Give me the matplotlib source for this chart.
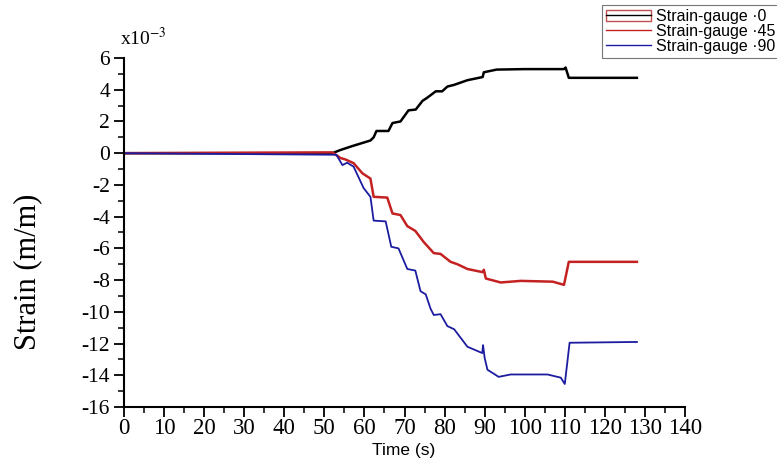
import matplotlib
matplotlib.use("Agg")
import matplotlib.pyplot as plt
from matplotlib.lines import Line2D
from matplotlib.patches import Patch
from matplotlib.ticker import MultipleLocator

plt.rcParams["axes.unicode_minus"] = False
plt.rcParams["font.family"] = ["Liberation Serif", "DejaVu Serif"]
plt.rcParams["mathtext.fontset"] = "stix"

# Strain-gauge 0 (black)
t0 = [0, 52, 54, 57, 61.5, 62.3, 63, 66, 67, 69, 71, 72.8, 74.5, 75.7, 77.8, 79.4,
      80.7, 82.3, 85.7, 89.5, 89.8, 93, 100, 109.8, 110.2, 111, 128]
e0 = [0, 0, 0.2, 0.45, 0.8, 1.0, 1.4, 1.4, 1.9, 2.0, 2.7, 2.75, 3.3, 3.5, 3.9, 3.9,
      4.2, 4.3, 4.6, 4.8, 5.1, 5.27, 5.3, 5.3, 5.4, 4.75, 4.75]

# Strain-gauge 45 (red)
t45 = [0, 52, 54, 55.3, 57.3, 59.5, 61.5, 62.3, 65.7, 67, 69, 70.7, 72.7, 74.8, 77.3,
       79, 81.5, 83.2, 85.7, 89.5, 89.8, 90.3, 94, 99, 107, 109.8, 111, 128]
e45 = [0, 0.05, -0.3, -0.4, -0.63, -1.27, -1.6, -2.75, -2.8, -3.8, -3.9, -4.6, -4.9,
       -5.6, -6.3, -6.35, -6.85, -7.0, -7.3, -7.5, -7.35, -7.9, -8.15, -8.05, -8.1,
       -8.3, -6.85, -6.85]

# Strain-gauge 90 (blue)
t90 = [0, 53, 54.5, 55.7, 57.3, 59.8, 61.5, 62.3, 65.3, 66.7, 68.5, 70.7, 72.7, 74,
       75.3, 76.5, 77.3, 79, 80.7, 82.4, 85.7, 89.4, 89.6, 90, 90.7, 93.5, 96.5,
       105.7, 109, 110, 111.2, 128]
e90 = [0, -0.1, -0.75, -0.6, -0.85, -2.2, -2.75, -4.25, -4.3, -5.9, -6.0, -7.3, -7.4,
       -8.7, -8.9, -9.8, -10.2, -10.15, -10.9, -11.1, -12.2, -12.6, -12.1, -12.9,
       -13.65, -14.1, -13.95, -13.95, -14.15, -14.55, -11.95, -11.9]

labels = ["Strain-gauge \u00b70", "Strain-gauge \u00b745", "Strain-gauge \u00b790"]

fig = plt.figure(figsize=(7.77, 4.61), dpi=100)
ax = fig.add_axes([124 / 777, 1 - 407 / 461, (685 - 124) / 777, (407 - 58) / 461])

ax.plot(t0, e0, color="black", lw=1.8)
ax.plot(t45, e45, color="#c42222", lw=1.8)
ax.plot(t90, e90, color="#1c1ca0", lw=1.3)

ax.set_xlim(0, 140)
ax.set_ylim(-16, 6)
ax.xaxis.set_major_locator(MultipleLocator(10))
ax.xaxis.set_minor_locator(MultipleLocator(5))
ax.yaxis.set_major_locator(MultipleLocator(2))
ax.yaxis.set_minor_locator(MultipleLocator(1))

for s in ["top", "right"]:
    ax.spines[s].set_visible(False)
for s in ["left", "bottom"]:
    ax.spines[s].set_linewidth(1.5)

ax.tick_params(which="major", direction="out", length=7, width=1.3)
ax.tick_params(which="minor", direction="out", length=4, width=1.1)
ax.tick_params(axis="x", labelsize=16.5, pad=1)
ax.tick_params(axis="y", labelsize=15.5, pad=3)

fig.text(28 / 777, 1 - 272 / 461, "Strain (m/m)", rotation=90, ha="center", va="center",
         fontsize=22)
fig.text(404 / 777, 1 - 450 / 461, "Time (s)", ha="center", va="center",
         fontfamily="Liberation Sans", fontsize=12.5)
fig.text(120 / 777, 1 - 38 / 461, "x10$^{-3}$", ha="left", va="center", fontsize=14)

h0 = (Patch(facecolor="none", edgecolor="#c05050", lw=1.0), Line2D([], [], color="black", lw=1.0))
h45 = Line2D([], [], color="#c42222", lw=1.0)
h90 = Line2D([], [], color="#1c1ca0", lw=1.0)
leg = fig.legend([h0, h45, h90], labels, loc="upper left",
                 bbox_to_anchor=(602 / 777, 1 - 5 / 461), frameon=True, fancybox=False,
                 prop={"family": "Liberation Sans", "size": 11.5}, handlelength=2.8,
                 handletextpad=0.3, labelspacing=0.0, borderpad=0.25, borderaxespad=0)
leg.get_frame().set_edgecolor("#555555")
leg.get_frame().set_linewidth(0.8)

fig.savefig("out.png", dpi=100)
